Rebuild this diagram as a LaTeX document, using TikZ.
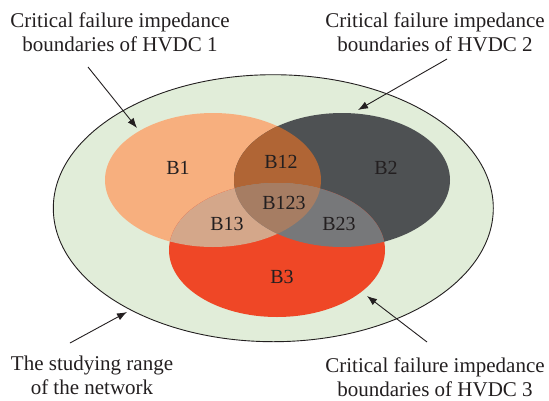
\documentclass[tikz,border=0pt]{standalone}
\usepackage{fontspec}
\setmainfont{Liberation Serif}
\usetikzlibrary{arrows.meta}

\definecolor{ink}{HTML}{231F20}
\definecolor{rangefill}{HTML}{E1EDD9}
\definecolor{hvdcA}{HTML}{F7AF7E}
\definecolor{hvdcB}{HTML}{4E5153}
\definecolor{hvdcC}{HTML}{EF4726}
\definecolor{hvdcAB}{HTML}{B06535}
\definecolor{hvdcAC}{HTML}{D4A78A}
\definecolor{hvdcBC}{HTML}{77787A}
\definecolor{hvdcABC}{HTML}{A67D63}

\newcommand{\bndA}{(213,180) ellipse [x radius=108pt, y radius=67pt]}
\newcommand{\bndB}{(342,180) ellipse [x radius=108pt, y radius=67pt]}
\newcommand{\bndC}{(277,250) ellipse [x radius=108pt, y radius=67pt]}

\begin{document}
\begin{tikzpicture}[x=1pt, y=-1pt,
  lbl/.style={text=ink, font=\fontsize{21}{24}\selectfont, align=center, inner sep=0pt},
  reg/.style={text=ink, font=\fontsize{20}{24}\selectfont, inner sep=0pt},
  ptr/.style={draw=ink, line width=0.9pt, -{Latex[length=10pt, width=7.5pt]}}]
  \useasboundingbox (0,0) rectangle (549,400);

  % studying range of the network
  \filldraw[fill=rangefill, draw=ink, line width=0.9pt] (273.3,208.2) ellipse [x radius=220pt, y radius=133.5pt];

  % boundaries and their overlaps
  \fill[hvdcA] \bndA;
  \fill[hvdcB] \bndB;
  \fill[hvdcC] \bndC;
  \begin{scope}
    \clip \bndA;
    \fill[hvdcAB] \bndB;
    \fill[hvdcAC] \bndC;
  \end{scope}
  \begin{scope}
    \clip \bndB;
    \fill[hvdcBC] \bndC;
  \end{scope}
  \begin{scope}
    \clip \bndA;
    \clip \bndB;
    \fill[hvdcABC] \bndC;
  \end{scope}

  \node[reg] (B1) at (178,168) {B1};
  \node[reg] (B12) at (281,162) {B12};
  \node[reg] (B2) at (386,168) {B2};
  \node[reg] (B123) at (284,203) {B123};
  \node[reg] (B13) at (227,224) {B13};
  \node[reg] (B23) at (339,224) {B23};
  \node[reg] (B3) at (282,277) {B3};

  \node[lbl] (K1) at (120,32) {Critical failure impedance\\boundaries of HVDC 1};
  \node[lbl] (K2) at (435,32) {Critical failure impedance\\boundaries of HVDC 2};
  \node[lbl] (N) at (92,375) {The studying range\\of the network};
  \node[lbl] (K3) at (435,377) {Critical failure impedance\\boundaries of HVDC 3};

  \coordinate (t1) at (88,67);
  \coordinate (h1) at (137,128);
  \coordinate (t2) at (447,59);
  \coordinate (h2) at (358,110);
  \coordinate (tn) at (70,343);
  \coordinate (hn) at (127,312);
  \coordinate (t3) at (427,342);
  \coordinate (h3) at (367,296);
  \draw[ptr] (t1) -- (h1);
  \draw[ptr] (t2) -- (h2);
  \draw[ptr] (tn) -- (hn);
  \draw[ptr] (t3) -- (h3);
\end{tikzpicture}
\end{document}
